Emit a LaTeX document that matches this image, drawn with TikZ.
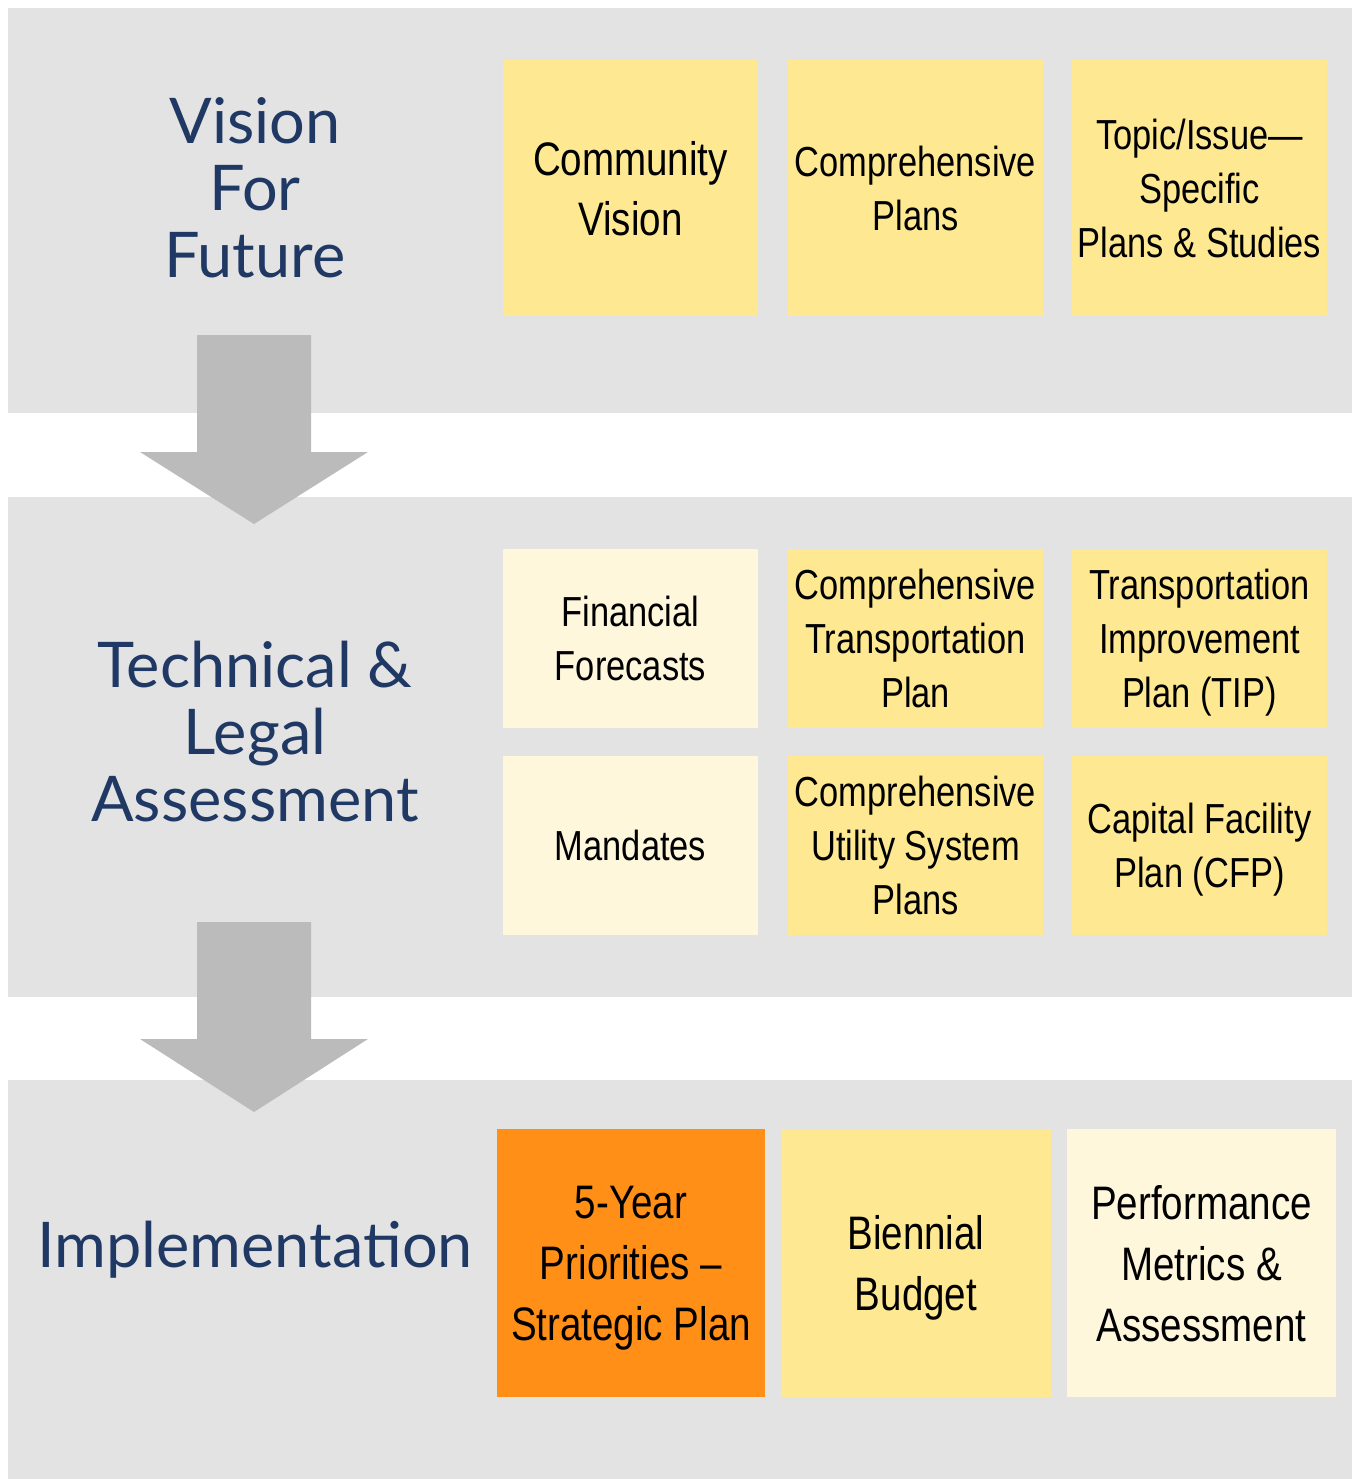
\documentclass[tikz,border=0pt]{standalone}
\usepackage{fontspec}
\setmainfont{Liberation Sans}
\newfontfamily\boxfont{Liberation Sans}[FakeStretch=0.82]
\newfontfamily\headfont{Lato}
\usepackage{xcolor}
\usetikzlibrary{positioning}
\definecolor{bandgray}{HTML}{E3E3E3}
\definecolor{arrowgray}{HTML}{BCBBBC}
\definecolor{planyellow}{HTML}{FEE992}
\definecolor{paleyellow}{HTML}{FEF7DC}
\definecolor{planorange}{HTML}{FF8F17}
\definecolor{headnavy}{HTML}{1F3864}

\begin{document}
\begin{tikzpicture}[x=1pt, y=-1pt, node distance=30pt,
        plan/.style={rectangle, fill=planyellow, inner sep=0pt, outer sep=0pt, align=center, text depth=0pt, minimum width=255pt, minimum height=179pt, font=\boxfont\fontsize{42}{54}\selectfont},
        pale/.style={plan, fill=paleyellow},
        heading/.style={align=center, text=headnavy, font=\headfont\fontsize{63}{67}\selectfont}]
        \useasboundingbox (0,0) rectangle (1353,1479);

        % Bands
        \fill[bandgray] (8,8) rectangle (1352,413);
        \fill[bandgray] (8,497) rectangle (1352,997);
        \fill[bandgray] (8,1080) rectangle (1352,1479);

        % Arrows
        \fill[arrowgray] (197,335) -- (311,335) -- (311,452) -- (368,452) -- (254,524) -- (140,452) -- (197,452) -- cycle;
        \fill[arrowgray] (197,922) -- (311,922) -- (311,1039) -- (368,1039) -- (254,1112) -- (140,1039) -- (197,1039) -- cycle;

        % Headings
        \node[heading] (vision) at (255,188) {Vision\\For\\Future};
        \node[heading] (technical) at (255,732) {Technical \&\\Legal\\Assessment};
        \node[heading] (implementation) at (255,1250) {Implementation};

        % Nodes
        \node[plan, minimum height=256pt, font=\boxfont\fontsize{47}{60}\selectfont] (community) at (630.5,188) {Community\\Vision};
        \node[plan, minimum height=256pt, right=of community] (comprehensive) {Comprehensive\\Plans};
        \node[plan, minimum height=256pt, right=29pt of comprehensive] (topics) {Topic/Issue—\\Specific\\Plans \& Studies};

        \node[pale] (forecasts) at (630.5,638.5) {Financial\\Forecasts};
        \node[plan, right=of forecasts] (transport) {Comprehensive\\Transportation\\Plan};
        \node[plan, right=29pt of transport] (tip) {Transportation\\Improvement\\Plan (TIP)};
        \node[pale, below=28pt of forecasts] (mandates) {Mandates};
        \node[plan, right=of mandates] (utility) {Comprehensive\\Utility System\\Plans};
        \node[plan, right=29pt of utility] (cfp) {Capital Facility\\Plan (CFP)};

        \node[plan, fill=planorange, minimum width=268pt, minimum height=268pt, font=\boxfont\fontsize{47}{61}\selectfont] (strategic) at (631,1263) {5-Year\\Priorities –\\Strategic Plan};
        \node[plan, minimum width=270pt, minimum height=268pt, font=\boxfont\fontsize{47}{61}\selectfont, right=16pt of strategic] (budget) {Biennial\\Budget};
        \node[pale, minimum width=269pt, minimum height=268pt, font=\boxfont\fontsize{47}{61}\selectfont, right=16pt of budget] (metrics) {Performance\\Metrics \&\\Assessment};
\end{tikzpicture}
\end{document}
